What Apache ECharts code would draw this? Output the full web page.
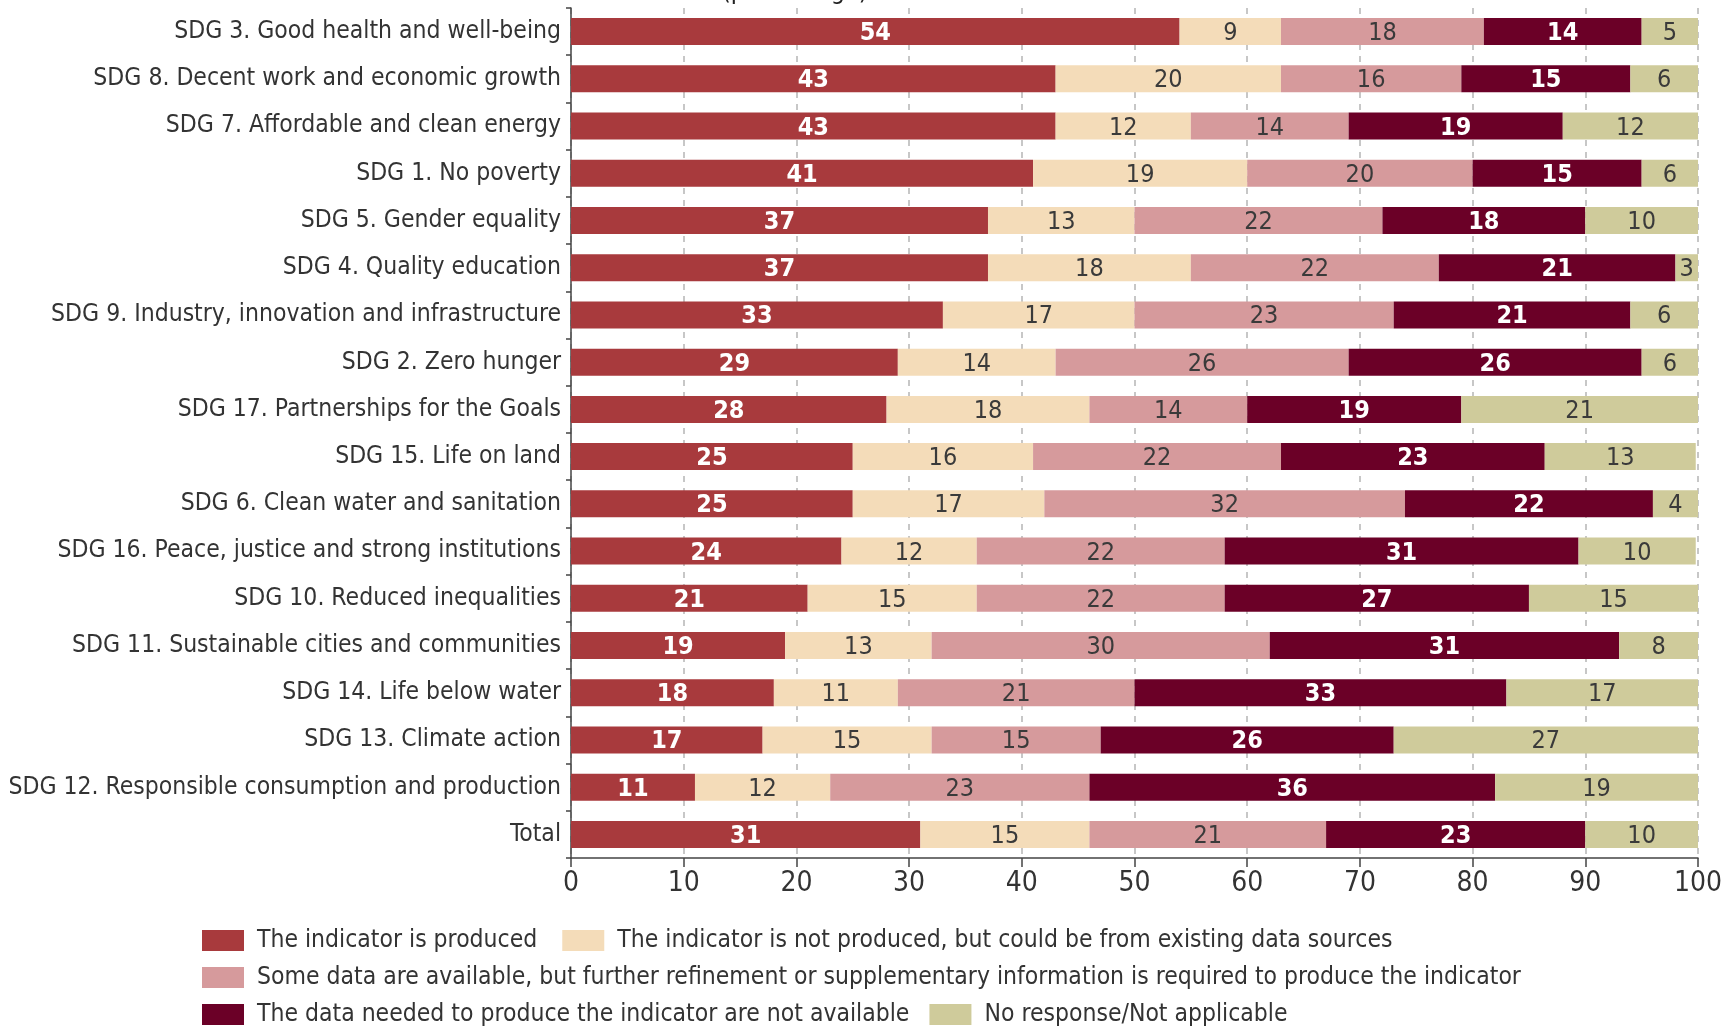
<!DOCTYPE html>
<html>
<head>
<meta charset="utf-8">
<script src="https://cdn.jsdelivr.net/npm/echarts@6/dist/echarts.min.js"></script>
<style>
html,body{margin:0;padding:0;background:#fff;}
#chart{width:1731px;height:1028px;}
</style>
</head>
<body>
<div id="chart"></div>
<script>
var categories = [
  'SDG 3. Good health and well-being',
  'SDG 8. Decent work and economic growth',
  'SDG 7. Affordable and clean energy',
  'SDG 1. No poverty',
  'SDG 5. Gender equality',
  'SDG 4. Quality education',
  'SDG 9. Industry, innovation and infrastructure',
  'SDG 2. Zero hunger',
  'SDG 17. Partnerships for the Goals',
  'SDG 15. Life on land',
  'SDG 6. Clean water and sanitation',
  'SDG 16. Peace, justice and strong institutions',
  'SDG 10. Reduced inequalities',
  'SDG 11. Sustainable cities and communities',
  'SDG 14. Life below water',
  'SDG 13. Climate action',
  'SDG 12. Responsible consumption and production',
  'Total'
];
var seriesNames = [
  'The indicator is produced',
  'The indicator is not produced, but could be from existing data sources',
  'Some data are available, but further refinement or supplementary information is required to produce the indicator',
  'The data needed to produce the indicator are not available',
  'No response/Not applicable'
];
var produced     = [54, 43, 43, 41, 37, 37, 33, 29, 28, 25, 25, 24, 21, 19, 18, 17, 11, 31];
var couldProduce = [ 9, 20, 12, 19, 13, 18, 17, 14, 18, 16, 17, 12, 15, 13, 11, 15, 12, 15];
var someData     = [18, 16, 14, 20, 22, 22, 23, 26, 14, 22, 32, 22, 22, 30, 21, 15, 23, 21];
var notAvailable = [14, 15, 19, 15, 18, 21, 21, 26, 19, 23.4, 22, 31.4, 27, 31, 33, 26, 36, 23];
var noResponse   = [ 5,  6, 12,  6, 10,  3,  6,  6, 21, 13.4, 4, 10.4, 15,  8, 17, 27, 19, 10];
var xTicks = [0, 10, 20, 30, 40, 50, 60, 70, 80, 90, 100];

var FONT = "'DejaVu Sans Condensed', 'Liberation Sans Narrow', 'Roboto', sans-serif";
var colors = ['#a83a3d', '#f4dcb9', '#d69a9c', '#6b0027', '#cfcb9b'];
var labelColors = ['#ffffff', '#3a3a3a', '#3a3a3a', '#ffffff', '#3a3a3a'];
var labelWeights = ['bold', 'normal', 'normal', 'bold', 'normal'];
var values = [produced, couldProduce, someData, notAvailable, noResponse];

var series = values.map(function (arr, i) {
  return {
    name: seriesNames[i],
    type: 'bar',
    stack: 'total',
    data: arr,
    barWidth: 27,
    itemStyle: { color: colors[i] },
    label: {
      show: true,
      position: 'inside',
      offset: [0, 2],
      formatter: function (p) { return String(Math.round(p.value)); },
      color: labelColors[i],
      fontFamily: FONT,
      fontWeight: labelWeights[i],
      fontSize: 25
    },
    emphasis: { disabled: true }
  };
});

var legendBase = {
  itemWidth: 42,
  itemHeight: 21,
  itemGap: 25,
  icon: 'rect',
  selectedMode: false,
  orient: 'horizontal',
  textStyle: { fontFamily: FONT, fontSize: 24.5, color: '#333', padding: [0, 0, 0, 8] },
  padding: 0
};

var chart = echarts.init(document.getElementById('chart'), null, { renderer: 'canvas' });
chart.setOption({
  animation: false,
  backgroundColor: '#ffffff',
  title: {
    text: '(percentage)',
    left: 717,
    top: -25,
    textStyle: { fontFamily: FONT, fontSize: 25, fontWeight: 'normal', color: '#222' }
  },
  grid: { left: 571, right: 33, top: 8, bottom: 170, containLabel: false, outerBoundsMode: 'none' },
  legend: [
    Object.assign({}, legendBase, { data: [seriesNames[0], seriesNames[1]], left: 202, top: 928 }),
    Object.assign({}, legendBase, { data: [seriesNames[2]], left: 202, top: 965 }),
    Object.assign({}, legendBase, { data: [seriesNames[3], seriesNames[4]], left: 202, top: 1002, itemGap: 20 })
  ],
  xAxis: {
    type: 'value',
    min: xTicks[0],
    max: xTicks[xTicks.length - 1],
    interval: 10,
    axisLine: { show: true, lineStyle: { color: '#444', width: 1.5 } },
    axisTick: { show: true, length: 9, lineStyle: { color: '#444', width: 1.5 } },
    axisLabel: { fontFamily: FONT, fontSize: 28, color: '#333', margin: 12 },
    splitLine: { show: true, lineStyle: { color: '#b5b5b5', type: [6, 6], width: 1.5 } }
  },
  yAxis: {
    type: 'category',
    data: categories,
    inverse: true,
    axisLine: { show: true, lineStyle: { color: '#444', width: 1.5 } },
    axisTick: { show: true, length: 5, lineStyle: { color: '#444', width: 1.5 } },
    axisLabel: { fontFamily: FONT, fontSize: 24.5, color: '#333', margin: 10 }
  },
  series: series
});
</script>
</body>
</html>
